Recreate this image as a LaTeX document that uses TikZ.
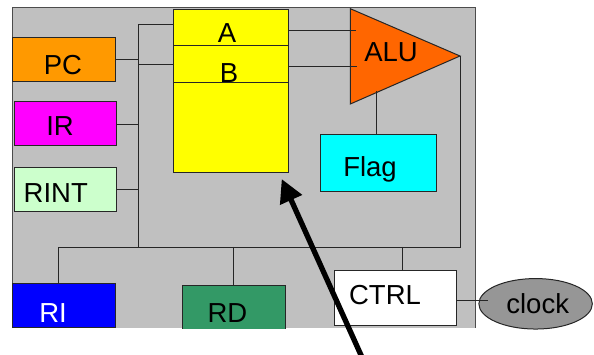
\documentclass[tikz,border=0pt]{standalone}
\usepackage{fontspec}
\setmainfont{Liberation Sans}
\usetikzlibrary{arrows.meta,shapes.geometric}
\definecolor{bgc}{HTML}{C0C0C0}
\definecolor{pcc}{HTML}{FF9900}
\definecolor{irc}{HTML}{FF00FF}
\definecolor{rintc}{HTML}{CCFFCC}
\definecolor{regc}{HTML}{FFFF00}
\definecolor{aluc}{HTML}{FF6600}
\definecolor{flagc}{HTML}{00FFFF}
\definecolor{ric}{HTML}{0000FF}
\definecolor{rdc}{HTML}{339966}
\definecolor{clkc}{HTML}{969696}
\begin{document}
\begin{tikzpicture}[x=1pt,y=-1pt,
  box/.style={draw=black!85,line width=1pt,inner sep=0pt,outer sep=0pt},
  wire/.style={draw=black!85,line width=0.9pt},
  lbl/.style={anchor=base,inner sep=0pt,font=\fontsize{27.5}{33}\selectfont}]
\useasboundingbox (0,0) rectangle (594,355);
% frame
\fill[bgc] (12,8) rectangle (475,328);
\draw[black!70,line width=1pt] (12,328) -- (12,8) -- (475,8) -- (475,328);
% boxes
\node[box,fill=pcc,minimum width=103pt,minimum height=44pt] (pc) at (63.5,59.7) {};
\node[box,fill=irc,minimum width=102.7pt,minimum height=44pt] (ir) at (65.35,124) {};
\node[box,fill=rintc,minimum width=102.7pt,minimum height=43.7pt] (rint) at (65.35,189.85) {};
\node[box,fill=regc,minimum width=115pt,minimum height=36.4pt] (regA) at (230.5,27.5) {};
\node[box,fill=regc,minimum width=115pt,minimum height=37.3pt] (regB) at (230.5,64.35) {};
\node[box,fill=regc,minimum width=115pt,minimum height=89.7pt] (regC) at (230.5,127.85) {};
\node[box,fill=flagc,minimum width=115.7pt,minimum height=56.7pt] (flag) at (378.15,163.35) {};
\node[box,fill=ric,minimum width=103.3pt,minimum height=44.4pt] (ri) at (63.65,305.5) {};
\begin{scope}
\clip (0,0) rectangle (594,328.3);
\node[box,fill=rdc,minimum width=103pt,minimum height=50pt] (rd) at (233.5,310) {};
\end{scope}
\node[box,fill=white,minimum width=121.7pt,minimum height=55pt] (ctrl) at (395.15,298.2) {};
\node[box,ellipse,fill=clkc,minimum width=113.5pt,minimum height=50.5pt] (clock) at (535.6,303.8) {};
% ALU triangle
\coordinate (aluTL) at (350.3,8.7);
\coordinate (apex) at (460,56);
\coordinate (aluBL) at (350.3,104);
\filldraw[fill=aluc,draw=black!85,line width=1pt] (aluTL) -- (apex) -- (aluBL) -- cycle;
% junction coordinates
\coordinate (busT) at (138.5,24);
\coordinate (busM) at (138.5,64.3);
\coordinate (busB) at (138.5,247);
\coordinate (busR) at (460,247);
\coordinate (riJ) at (58,247);
\coordinate (ctJ) at (402.3,247);
\coordinate (aluA) at (356,30);
\coordinate (aluB) at (357,66);
\coordinate (aluF) at (376.3,91);
\coordinate (ckJ) at (488,300.7);
% wires
\draw[wire] (busT -| regA.west) -- (busT) -- (busB);
\draw[wire] (busM) -- (busM -| regB.west);
\draw[wire] (pc.east) -- (pc.east -| busT);
\draw[wire] (ir.east) -- (ir.east -| busT);
\draw[wire] (rint.east) -- (rint.east -| busT);
\draw[wire] (aluA -| regA.east) -- (aluA);
\draw[wire] (aluB -| regB.east) -- (aluB);
\draw[wire] (aluF) -- (aluF |- flag.north);
\draw[wire] (apex) -- (busR) -- (riJ) -- (riJ |- ri.north);
\draw[wire] (rd.north |- busB) -- (rd.north);
\draw[wire] (ctJ) -- (ctJ |- ctrl.north);
\draw[wire] (ckJ -| ctrl.east) -- (ckJ);
% labels
\node[lbl] (tA) at (227,42.7) {A};
\node[lbl] (tB) at (229,82.7) {B};
\node[lbl] (tPC) at (63,75) {PC};
\node[lbl] (tIR) at (60,136) {IR};
\node[lbl] (tRINT) at (55.8,202.7) {RINT};
\node[lbl] (tALU) at (391,61.7) {ALU};
\node[lbl] (tFlag) at (370,176.7) {Flag};
\node[lbl,text=white] (tRI) at (53,322.7) {RI};
\node[lbl] (tRD) at (227.5,322.3) {RD};
\node[lbl] (tCTRL) at (385,305) {CTRL};
\node[lbl] (tclock) at (537.7,313.3) {clock};
% pointer arrow
\coordinate (arS) at (362.3,358);
\coordinate (arT) at (281.7,179);
\draw[line width=5.3pt,-{Triangle[width=23pt,length=23pt]}] (arS) -- (arT);
\end{tikzpicture}
\end{document}
